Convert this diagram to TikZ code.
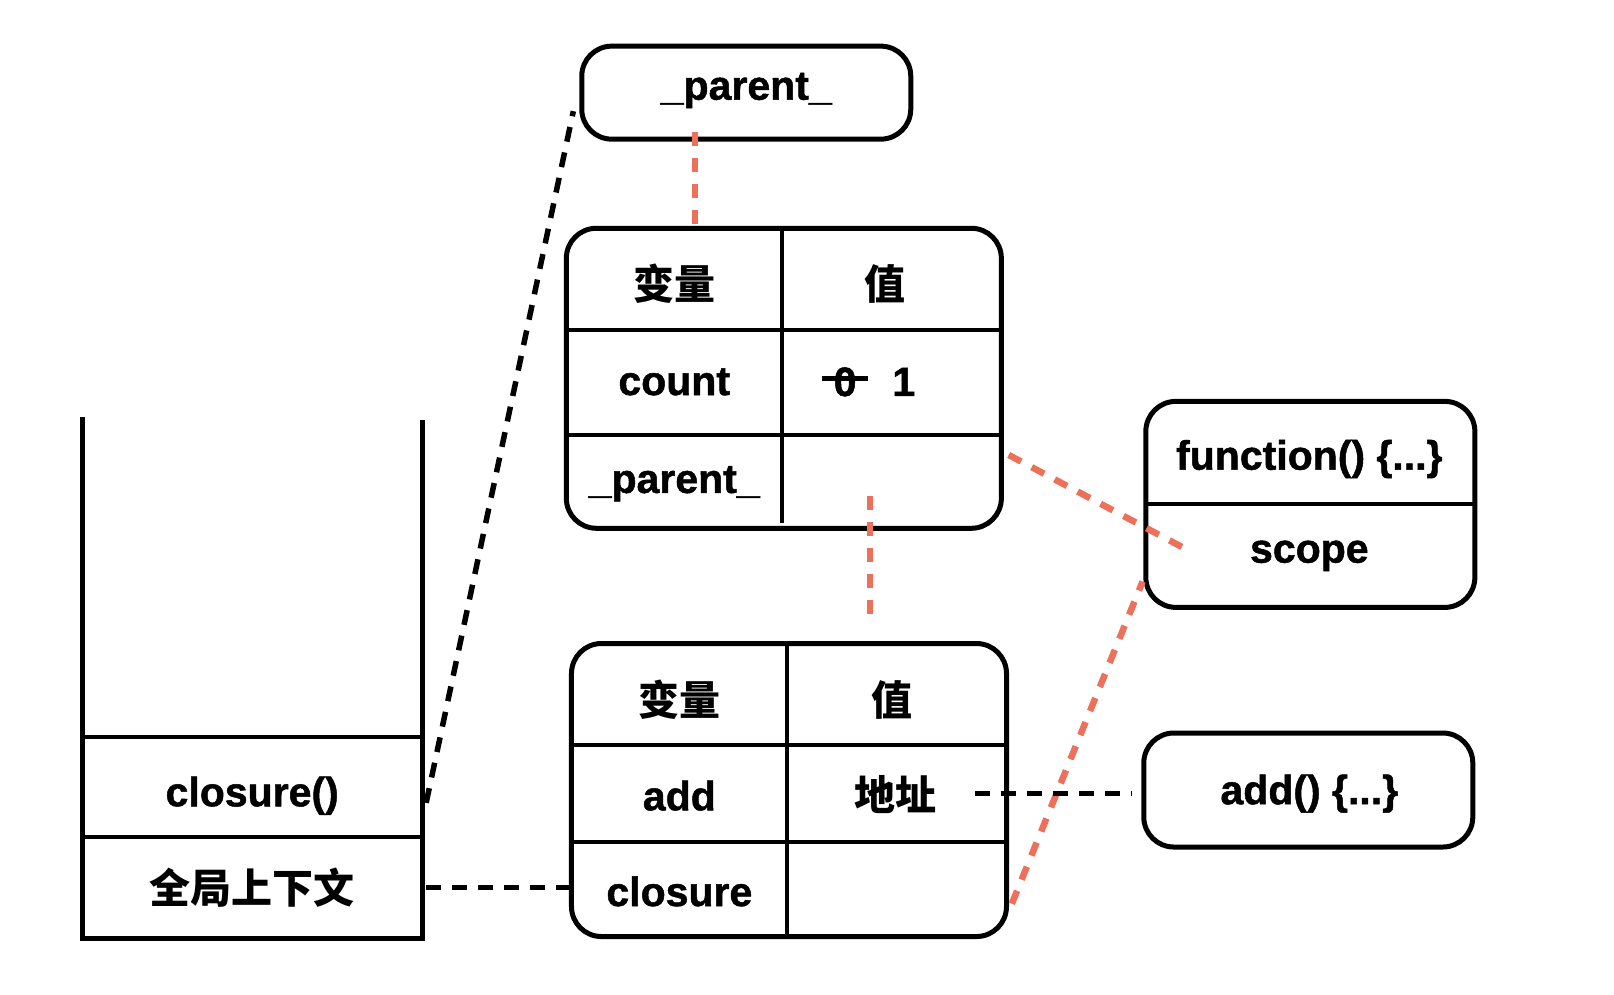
\documentclass[tikz,border=0pt]{standalone}
\usepackage{fontspec}
\setmainfont{Liberation Sans}[BoldFeatures={FakeBold=1.2}]
\newfontfamily\cjk{Noto Sans CJK SC}
\begin{document}
\begin{tikzpicture}[x=1.0293pt,y=-1.0293pt,
  box/.style={draw,line width=5pt,rounded corners=30pt,inner sep=0pt},
  inner/.style={line width=4pt},
  txt/.style={inner sep=0pt,font=\fontsize{41}{45}\selectfont\bfseries},
  ctxt/.style={inner sep=0pt,font=\fontsize{41}{45}\selectfont\cjk\bfseries},
  reddash/.style={draw=redline,line width=6.5pt,dash pattern=on 14pt off 12pt},
  blkdash/.style={draw=black,line width=5.5pt,dash pattern=on 15pt off 11pt}]
\definecolor{redline}{RGB}{236,112,90}
\useasboundingbox (0,0) rectangle (1568,965.7);

% top _parent_ box
\node[box,minimum width=329pt,minimum height=93pt] (ptop) at (725,90) {};
\node[txt] (ptoptxt) at (725,88) {\_parent\_};

% table 1
\node[box,minimum width=435pt,minimum height=300pt] (t1) at (761.5,367.5) {};
\draw[inner] (760,224) -- (760,508);
\draw[inner] (552,321) -- (971,321);
\draw[inner] (552,423) -- (971,423);
\node[ctxt] (t1h1) at (655,276) {变量};
\node[ctxt] (t1h2) at (860,276) {值};
\node[txt] (t1count) at (655,371) {count};
\node[txt] (t1zero) at (821,371) {0};
\draw[line width=5pt] (799,368) -- (843,368);
\node[txt] (t1one) at (878,371) {1};
\node[txt] (t1parent) at (655,470) {\_parent\_};

% table 2
\node[box,minimum width=435pt,minimum height=293pt] (t2) at (766.5,767.5) {};
\draw[inner] (765,627) -- (765,908);
\draw[inner] (557,724) -- (976,724);
\draw[inner] (557,818) -- (976,818);
\node[ctxt] (t2h1) at (660,680) {变量};
\node[ctxt] (t2h2) at (867,680) {值};
\node[txt] (t2add) at (660,773) {add};
\node[ctxt] (t2addr) at (870,772) {地址};
\node[txt] (t2closure) at (660,866) {closure};

% function box
\node[box,minimum width=329pt,minimum height=206pt] (fn) at (1273,490) {};
\draw[inner] (1115,490) -- (1431,490);
\node[txt] (fntxt) at (1272,446) {function() \{...\}};
\node[txt] (scope) at (1272,540) {scope};

% add box
\node[box,minimum width=329pt,minimum height=114pt] (addbox) at (1271,767.5) {};
\node[txt] (addtxt) at (1272,771) {add() \{...\}};

% stack
\draw[line width=5pt] (80,405) -- (80,912) -- (410,912) -- (410,408);
\draw[inner] (80,716) -- (410,716);
\draw[inner] (80,813) -- (410,813);
\node[txt] (closurefn) at (245,773) {closure()};
\node[ctxt] (global) at (245,862) {全局上下文};

% connector end points
\coordinate (a1) at (675,128);
\coordinate (a2) at (675,222);
\coordinate (b1) at (845,482);
\coordinate (b2) at (845,608);
\coordinate (c1) at (980,442);
\coordinate (c2) at (1155,535);
\coordinate (d1) at (983,878);
\coordinate (d2) at (1110,565);
\coordinate (e1) at (414,780);
\coordinate (e2) at (557,108);
\coordinate (f1) at (414,862);
\coordinate (f2) at (555,862);
\coordinate (g1) at (947,771);
\coordinate (g2) at (1100,771);

\draw[reddash] (a1) -- (a2);
\draw[reddash] (b1) -- (b2);
\draw[reddash] (c1) -- (c2);
\draw[reddash] (d1) -- (d2);
\draw[blkdash] (e1) -- (e2);
\draw[blkdash] (f1) -- (f2);
\draw[blkdash] (g1) -- (g2);
\end{tikzpicture}
\end{document}
